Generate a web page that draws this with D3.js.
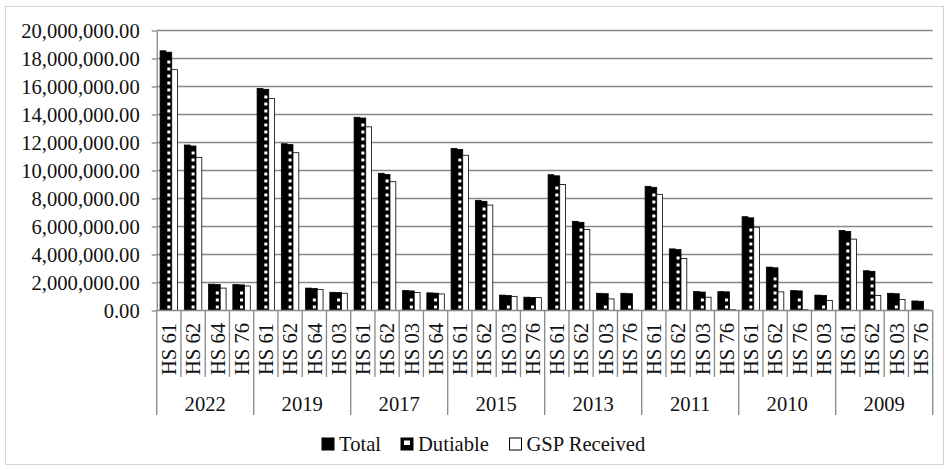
<!DOCTYPE html>
<html>
<head>
<meta charset="utf-8">
<script src="https://cdn.jsdelivr.net/npm/d3@7"></script>
<style>
  html, body { margin: 0; padding: 0; background: #fff; }
  svg text { font-family: "Liberation Serif", "Times New Roman", serif; fill: #111; }
</style>
</head>
<body>
<div id="chart"></div>
<script>
const years = ['2022', '2019', '2017', '2015', '2013', '2011', '2010', '2009'];
const hsCodes = [
    ['HS 61', 'HS 62', 'HS 64', 'HS 76'],
    ['HS 61', 'HS 62', 'HS 64', 'HS 03'],
    ['HS 61', 'HS 62', 'HS 03', 'HS 64'],
    ['HS 61', 'HS 62', 'HS 03', 'HS 76'],
    ['HS 61', 'HS 62', 'HS 03', 'HS 76'],
    ['HS 61', 'HS 62', 'HS 03', 'HS 76'],
    ['HS 61', 'HS 62', 'HS 76', 'HS 03'],
    ['HS 61', 'HS 62', 'HS 03', 'HS 76']
];
const totalValues = [
    18550000, 11820000, 1880000, 1850000,
    15860000, 11910000, 1600000, 1300000,
    13800000, 9800000, 1420000, 1260000,
    11580000, 7870000, 1100000, 950000,
    9700000, 6370000, 1230000, 1230000,
    8870000, 4400000, 1350000, 1350000,
    6700000, 3100000, 1420000, 1100000,
    5720000, 2840000, 1230000, 680000
];
const dutiableValues = [
    18450000, 11750000, 1850000, 1830000,
    15800000, 11850000, 1570000, 1280000,
    13750000, 9720000, 1400000, 1240000,
    11500000, 7800000, 1080000, 930000,
    9620000, 6300000, 1200000, 1200000,
    8800000, 4350000, 1320000, 1330000,
    6620000, 3050000, 1400000, 1080000,
    5650000, 2800000, 1200000, 660000
];
const gspValues = [
    17200000, 10940000, 1600000, 1750000,
    15150000, 11270000, 1500000, 1230000,
    13120000, 9200000, 1280000, 1180000,
    11090000, 7530000, 1010000, 920000,
    9000000, 5780000, 830000, 20000,
    8300000, 3720000, 950000, 50000,
    5950000, 1330000, 50000, 710000,
    5100000, 1070000, 780000, 30000
];
const seriesNames = ['Total', 'Dutiable', 'GSP Received'];
const yTicks = d3.range(0, 20000001, 2000000);

const width = 949;
const height = 470;
const plot = { left: 156.7, right: 932.7, top: 30.5, bottom: 310.5 };
const fontSize = 20.6;
const axisColor = '#888';

const categories = [];
years.forEach((year, g) => {
    hsCodes[g].forEach((code, k) => {
        const i = g * 4 + k;
        categories.push({
            id: i, year, code,
            values: [totalValues[i], dutiableValues[i], gspValues[i]]
        });
    });
});

const svg = d3.select('#chart').append('svg')
    .attr('width', width)
    .attr('height', height);

// outer chart frame
svg.append('rect')
    .attr('x', 5.5).attr('y', 6.5)
    .attr('width', 938).attr('height', 458)
    .attr('fill', '#fff')
    .attr('stroke', '#d4d4d4');

const y = d3.scaleLinear()
    .domain([0, 20000000])
    .range([plot.bottom, plot.top]);

const x = d3.scaleBand()
    .domain(categories.map(d => d.id))
    .range([plot.left, plot.right])
    .paddingInner(0.28)
    .paddingOuter(0.14);

const x1 = d3.scaleBand()
    .domain(seriesNames)
    .range([0, x.bandwidth()]);

// GRIDLINES
svg.append('g')
    .selectAll('line')
    .data(yTicks.slice(1))
    .join('line')
    .attr('x1', plot.left).attr('x2', plot.right)
    .attr('y1', d => y(d)).attr('y2', d => y(d))
    .attr('stroke', axisColor)
    .attr('stroke-width', 1.3);

// Y AXIS
const yAxis = svg.append('g')
    .attr('transform', `translate(${plot.left},0)`)
    .call(d3.axisLeft(y)
        .tickValues(yTicks)
        .tickFormat(d3.format(',.2f'))
        .tickSize(5)
        .tickSizeOuter(0)
        .tickPadding(12));
yAxis.selectAll('path, line').attr('stroke', axisColor).attr('stroke-width', 1.3);
yAxis.selectAll('text')
    .style('font-family', '"Liberation Serif", serif')
    .style('font-size', fontSize + 'px')
    .attr('fill', '#111');

// BARS
const fills = { 'Total': '#000', 'Dutiable': '#000', 'GSP Received': '#fff' };
const barGroups = svg.append('g')
    .selectAll('g')
    .data(categories)
    .join('g')
    .attr('transform', d => `translate(${x(d.id)},0)`);

barGroups.selectAll('rect.bar')
    .data(d => d.values.map((v, s) => ({ key: seriesNames[s], value: v })))
    .join('rect')
    .attr('class', 'bar')
    .attr('x', d => x1(d.key))
    .attr('y', d => y(d.value))
    .attr('width', x1.bandwidth())
    .attr('height', d => y(0) - y(d.value))
    .attr('fill', d => fills[d.key])
    .attr('stroke', '#000')
    .attr('stroke-width', 0.8);

// dutiable fill: column of small white squares inside the black bar
const sq = 3;
const pitch = 7;
barGroups.selectAll('rect.dot')
    .data(d => {
        const h = y(0) - y(d.values[1]);
        return d3.range(Math.floor((h - 3) / pitch));
    })
    .join('rect')
    .attr('class', 'dot')
    .attr('x', x1('Dutiable') + (x1.bandwidth() - sq) / 2)
    .attr('y', k => y(0) - 5 - k * pitch)
    .attr('width', sq)
    .attr('height', sq)
    .attr('fill', '#fff');

// X AXIS LINE + CATEGORY SEPARATORS
svg.append('line')
    .attr('x1', plot.left).attr('x2', plot.right)
    .attr('y1', plot.bottom).attr('y2', plot.bottom)
    .attr('stroke', axisColor).attr('stroke-width', 1.3);

svg.append('g')
    .selectAll('line')
    .data(d3.range(categories.length + 1))
    .join('line')
    .attr('x1', i => plot.left + i * x.step())
    .attr('x2', i => plot.left + i * x.step())
    .attr('y1', plot.bottom)
    .attr('y2', i => (i % 4 === 0 ? 415 : 377))
    .attr('stroke', axisColor)
    .attr('stroke-width', 1.3);

// HS LABELS
svg.append('g')
    .selectAll('text')
    .data(categories)
    .join('text')
    .attr('transform', d => `translate(${x(d.id) + x.bandwidth() / 2},323) rotate(-90)`)
    .attr('text-anchor', 'end')
    .attr('dy', '0.35em')
    .style('font-size', fontSize + 'px')
    .text(d => d.code);

// YEAR LABELS
svg.append('g')
    .selectAll('text')
    .data(years)
    .join('text')
    .attr('x', (d, g) => plot.left + (g * 4 + 2) * x.step())
    .attr('y', 411)
    .attr('text-anchor', 'middle')
    .style('font-size', fontSize + 'px')
    .text(d => d);

// LEGEND
const legendX = [322, 401, 509.5];
const legend = svg.append('g')
    .selectAll('g')
    .data(seriesNames)
    .join('g')
    .attr('transform', (d, i) => `translate(${legendX[i]},438)`);
legend.append('rect')
    .attr('width', 12).attr('height', 12)
    .attr('fill', d => (d === 'GSP Received' ? '#fff' : '#000'))
    .attr('stroke', '#000')
    .attr('stroke-width', 1);
legend.filter(d => d === 'Dutiable')
    .append('rect')
    .attr('x', 3).attr('y', 2.5)
    .attr('width', 6).attr('height', 4.5)
    .attr('fill', '#fff');
legend.append('text')
    .attr('x', 17)
    .attr('y', 12.5)
    .style('font-size', fontSize + 'px')
    .text(d => d);
</script>
</body>
</html>
